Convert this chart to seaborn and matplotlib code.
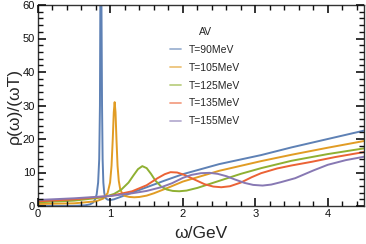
import numpy as np
import pandas as pd
import matplotlib
matplotlib.use("Agg")
import matplotlib.pyplot as plt
import seaborn as sns
from matplotlib.lines import Line2D
from matplotlib.ticker import MultipleLocator

sns.set_theme(style="ticks")
plt.rcParams['font.family'] = ['Liberation Sans', 'DejaVu Sans']
plt.rcParams.update({
    "xtick.direction": "in", "ytick.direction": "in",
    "xtick.top": True, "ytick.right": True,
    "xtick.bottom": True, "ytick.left": True,
    "xtick.major.size": 6, "ytick.major.size": 6,
    "xtick.minor.size": 3.5, "ytick.minor.size": 3.5,
    "xtick.major.width": 1.2, "ytick.major.width": 1.2,
    "xtick.minor.width": 1.0, "ytick.minor.width": 1.0,
    "xtick.color": "#111111", "ytick.color": "#111111",
    "xtick.labelsize": 8, "ytick.labelsize": 8,
    "xtick.major.pad": 2, "ytick.major.pad": 2,
    "axes.edgecolor": "#333333", "axes.linewidth": 1.0,
})

labels = ["T=90MeV", "T=105MeV", "T=125MeV", "T=135MeV", "T=155MeV"]
colors = ["#5E81B5", "#E19C24", "#8FB032", "#EB6235", "#8778B3"]

x_t90 = [0, 0.3, 0.5, 0.65, 0.72, 0.76, 0.79, 0.81, 0.83, 0.845, 0.855, 0.862,
         0.868, 0.876, 0.884, 0.892, 0.902, 0.914, 0.93, 0.96, 1.0, 1.05, 1.15,
         1.3, 1.5, 1.75, 2.0, 2.5, 3.08, 3.5, 4.0, 4.5]
y_t90 = [0.0, 0.0, 0.05, 0.2, 0.5, 1.0, 2.0, 3.5, 7, 14, 30, 70,
         90, 60, 30, 14, 7, 4, 2.4, 1.9, 1.8, 2.0, 2.8,
         4.0, 5.6, 7.6, 9.5, 12.5, 15.2, 17.5, 20.0, 22.5]

x_t105 = [0, 0.5, 0.8, 0.9, 0.96, 0.995, 1.015, 1.032, 1.046, 1.058, 1.07, 1.083,
          1.098, 1.115, 1.135, 1.165, 1.2, 1.26, 1.33, 1.4, 1.5, 1.6, 1.8, 2.0,
          2.5, 3.08, 3.5, 4.0, 4.5]
y_t105 = [0.6, 0.8, 1.4, 2.2, 3.8, 7, 12, 20, 28, 31, 28, 20,
          12, 7.5, 5, 3.6, 3.0, 2.7, 2.6, 2.7, 3.1, 3.8, 5.5, 7.3,
          10.5, 13.4, 15.3, 17.4, 19.4]

x_t125 = [0, 0.5, 0.9, 1.05, 1.15, 1.25, 1.32, 1.38, 1.44, 1.5, 1.56, 1.62,
          1.7, 1.78, 1.86, 1.95, 2.05, 2.2, 2.5, 2.8, 3.08, 3.5, 4.0, 4.5]
y_t125 = [1.1, 1.6, 2.6, 3.6, 4.9, 7.0, 9.2, 11.0, 11.9, 11.3, 9.6, 7.6,
          5.8, 4.9, 4.5, 4.4, 4.6, 5.4, 7.5, 9.6, 11.3, 13.5, 15.5, 17.2]

x_t135 = [0, 0.5, 1.0, 1.3, 1.5, 1.65, 1.75, 1.83, 1.92, 2.02, 2.15, 2.3,
          2.42, 2.53, 2.65, 2.8, 2.95, 3.08, 3.3, 3.5, 3.78, 4.1, 4.5]
y_t135 = [1.4, 2.0, 3.0, 4.4, 6.2, 8.3, 9.5, 10.1, 10.0, 9.3, 8.0, 6.5,
          5.8, 5.6, 5.9, 7.0, 8.6, 9.8, 11.2, 12.1, 13.2, 14.6, 16.1]

x_t155 = [0, 0.5, 1.0, 1.3, 1.5, 1.7, 1.85, 2.0, 2.12, 2.25, 2.37, 2.48,
          2.6, 2.72, 2.85, 2.97, 3.1, 3.22, 3.35, 3.55, 3.8, 4.0, 4.25, 4.5]
y_t155 = [1.8, 2.3, 3.0, 3.8, 4.5, 5.6, 6.8, 8.4, 9.3, 9.8, 9.9, 9.6,
          8.9, 7.9, 6.9, 6.3, 6.1, 6.4, 7.1, 8.3, 10.6, 12.3, 13.7, 14.7]

xs = [x_t90, x_t105, x_t125, x_t135, x_t155]
ys = [y_t90, y_t105, y_t125, y_t135, y_t155]
frames = []
for lab, xv, yv in zip(labels, xs, ys):
    frames.append(pd.DataFrame({"omega": xv, "rho": yv, "T": lab}))
df = pd.concat(frames, ignore_index=True)

fig = plt.figure(figsize=(3.66, 2.44), dpi=100)
ax = fig.add_axes([38/366, 1-206/244, (364-38)/366, (206-5)/244])
sns.lineplot(data=df, x="omega", y="rho", hue="T", palette=colors,
             hue_order=labels, sort=False, estimator=None, linewidth=1.4,
             legend=False, ax=ax)

ax.set_axisbelow(False)
ax.set_xlim(0, 4.5)
ax.set_ylim(0, 60)
ax.xaxis.set_major_locator(MultipleLocator(1))
ax.xaxis.set_minor_locator(MultipleLocator(0.2))
ax.yaxis.set_major_locator(MultipleLocator(10))
ax.yaxis.set_minor_locator(MultipleLocator(2))
ax.tick_params(which="both", direction="in", top=True, right=True,
               bottom=True, left=True)

ax.set_xlabel("ω/GeV", fontsize=12.5, labelpad=5)
ax.set_ylabel("ρ(ω)/(ωT)", fontsize=12.5, labelpad=1)

handles = [Line2D([0], [0], color=c, lw=1.3, alpha=0.6) for c in colors]
leg = fig.legend(handles, labels, title="AV", loc="upper left",
                 bbox_to_anchor=(166/366, 1-23/244), frameon=False,
                 fontsize=7.5, title_fontsize=7.5, handlelength=1.0,
                 handletextpad=0.8, labelspacing=0.75, borderaxespad=0)

fig.savefig("out.png", dpi=100)
